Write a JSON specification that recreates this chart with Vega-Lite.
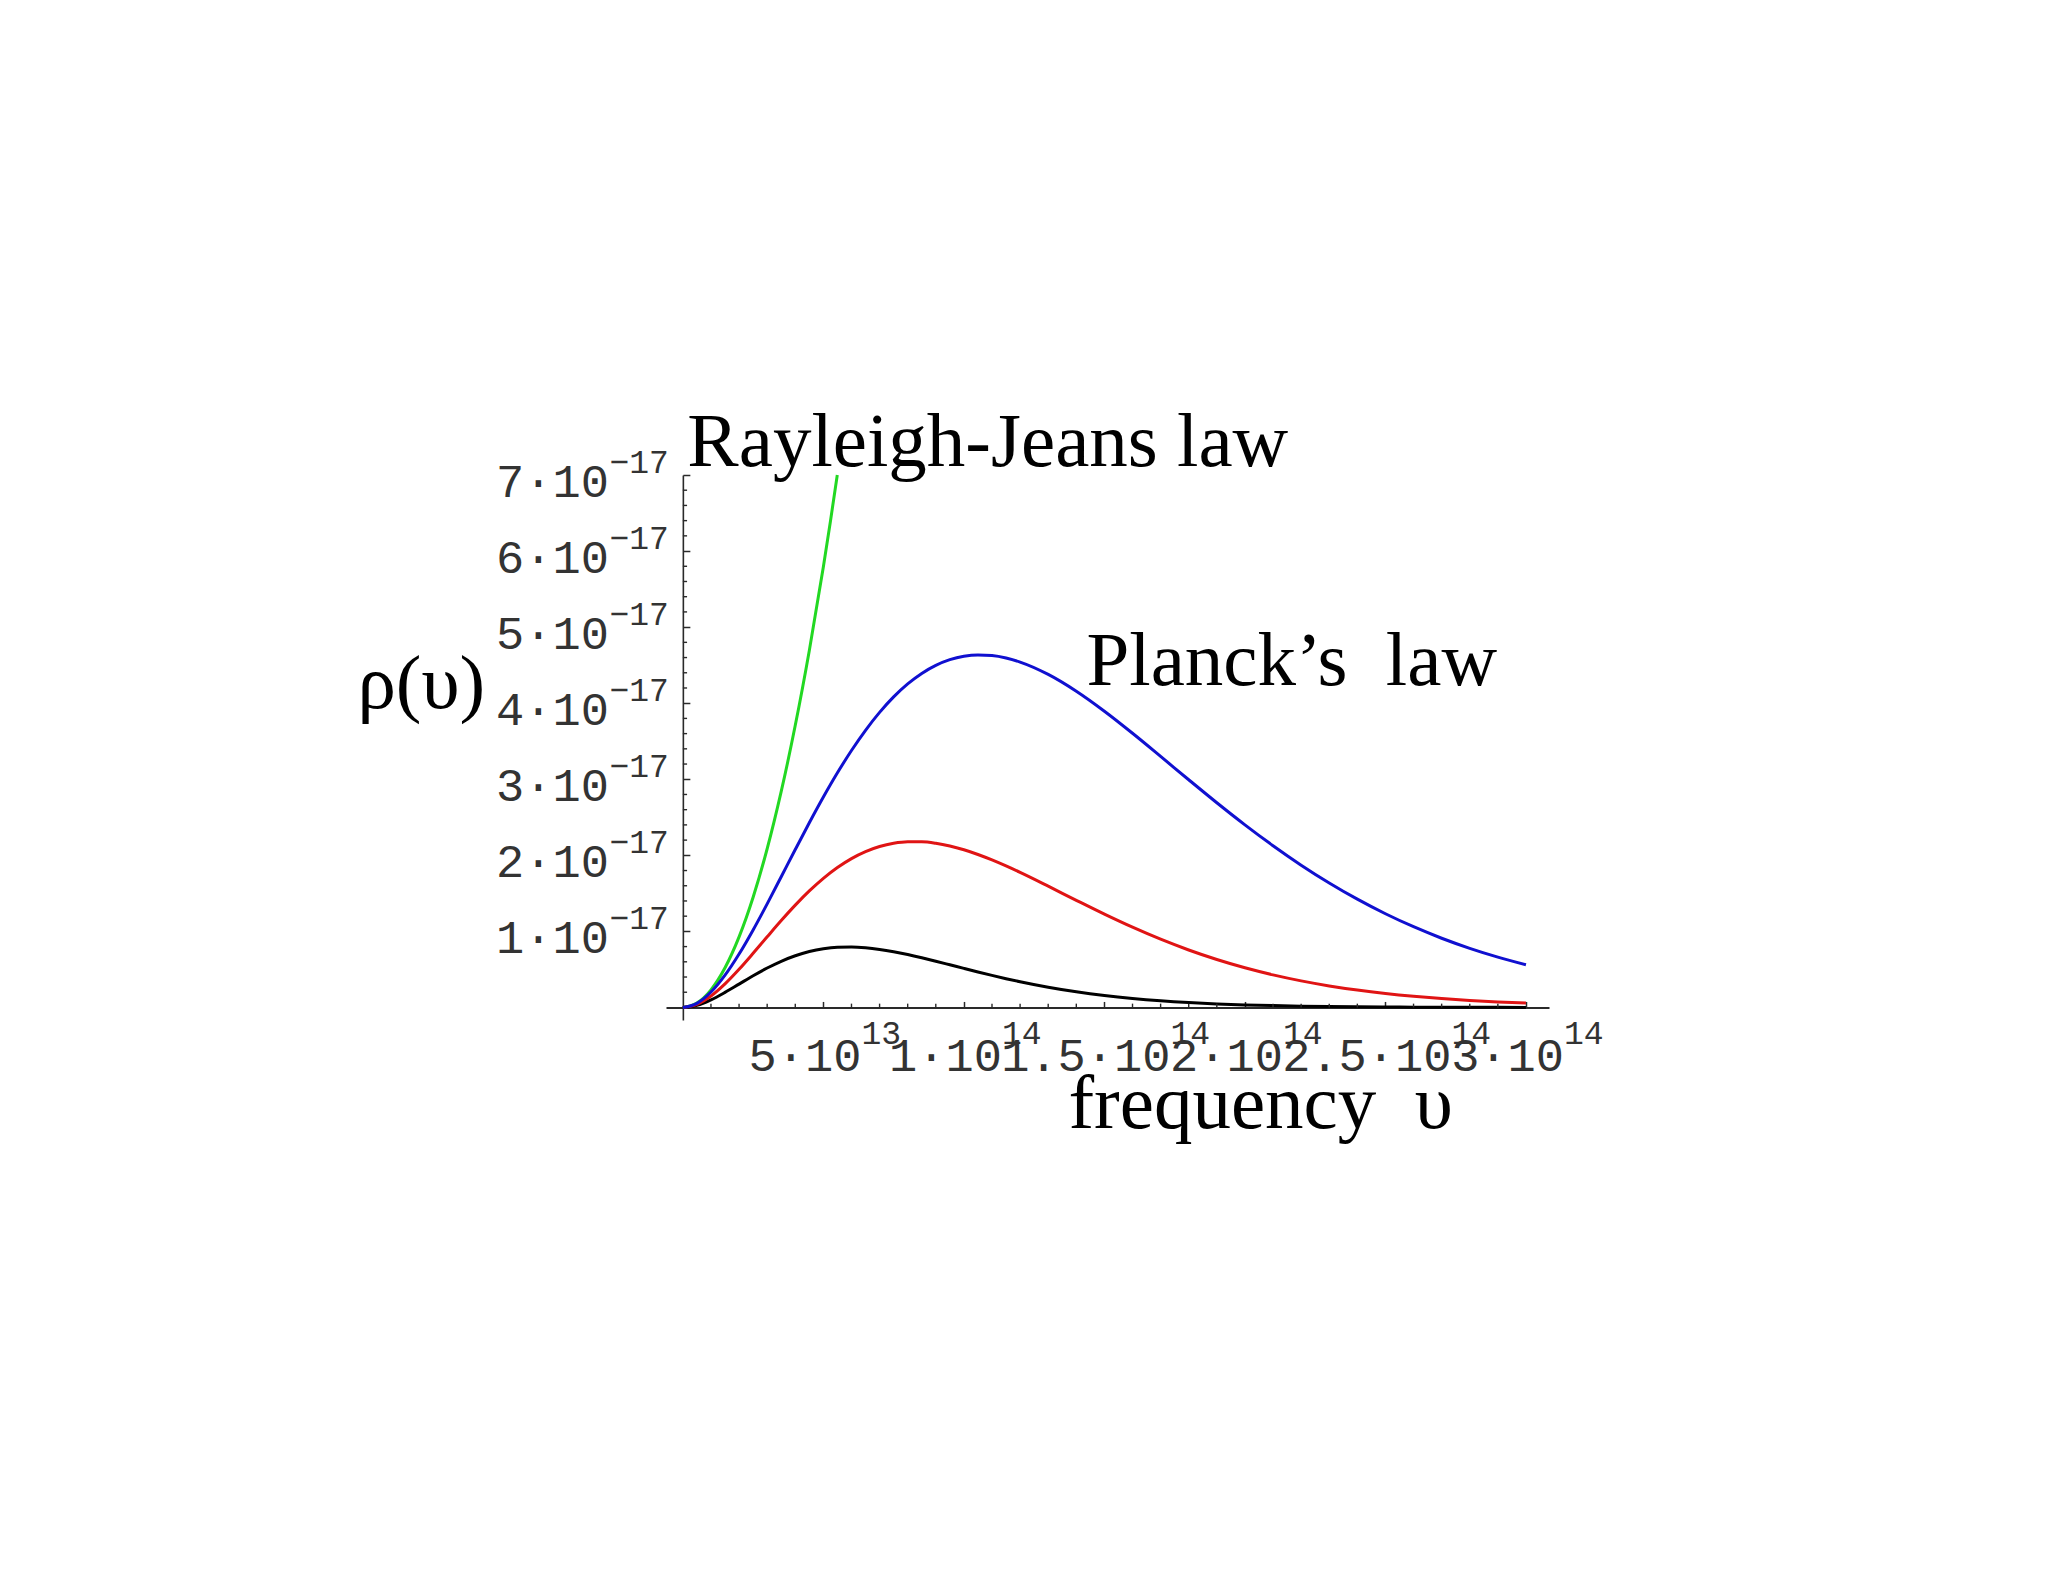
{
  "$schema": "https://vega.github.io/schema/vega-lite/v6.json",
  "width": 883,
  "height": 545,
  "autosize": {"type": "none"},
  "padding": {"left": 666, "top": 475, "right": 499, "bottom": 562},
  "background": "white",
  "config": {"view": {"stroke": null}},
  "datasets": {
    "curves": [
      {"s":"g","v":0,"r":0},{"s":"g","v":0.5,"r":0.058},{"s":"g","v":1,"r":0.2318},{"s":"g","v":1.5,"r":0.5216},{"s":"g","v":2,"r":0.9272},{"s":"g","v":2.5,"r":1.4488},{"s":"g","v":3,"r":2.0863},{"s":"g","v":3.5,"r":2.8397},{"s":"g","v":4,"r":3.709},{"s":"g","v":4.5,"r":4.6942},{"s":"g","v":5,"r":5.7953},{"s":"g","v":5.25,"r":6.3893},{"s":"g","v":5.495,"r":7.0},
      {"s":"b","v":0,"r":0},{"s":"b","v":0.5,"r":0.0542},{"s":"b","v":1,"r":0.2023},{"s":"b","v":1.5,"r":0.4243},{"s":"b","v":2,"r":0.7019},{"s":"b","v":2.5,"r":1.0192},{"s":"b","v":3,"r":1.362},{"s":"b","v":3.5,"r":1.7179},{"s":"b","v":4,"r":2.0762},{"s":"b","v":4.5,"r":2.4282},{"s":"b","v":5,"r":2.7662},{"s":"b","v":5.5,"r":3.0845},{"s":"b","v":6,"r":3.3783},{"s":"b","v":6.5,"r":3.644},{"s":"b","v":7,"r":3.8793},{"s":"b","v":7.5,"r":4.0826},{"s":"b","v":8,"r":4.2533},{"s":"b","v":8.5,"r":4.3913},{"s":"b","v":9,"r":4.4971},{"s":"b","v":9.5,"r":4.572},{"s":"b","v":10,"r":4.6173},{"s":"b","v":10.5,"r":4.6348},{"s":"b","v":11,"r":4.6264},{"s":"b","v":11.5,"r":4.5944},{"s":"b","v":12,"r":4.5409},{"s":"b","v":13,"r":4.3785},{"s":"b","v":14,"r":4.1574},{"s":"b","v":15,"r":3.8944},{"s":"b","v":16,"r":3.6044},{"s":"b","v":17,"r":3.3006},{"s":"b","v":18,"r":2.9934},{"s":"b","v":19,"r":2.6913},{"s":"b","v":20,"r":2.4008},{"s":"b","v":21,"r":2.1264},{"s":"b","v":22,"r":1.871},{"s":"b","v":23,"r":1.6365},{"s":"b","v":24,"r":1.4235},{"s":"b","v":25,"r":1.2319},{"s":"b","v":26,"r":1.0611},{"s":"b","v":27,"r":0.91},{"s":"b","v":28,"r":0.7772},{"s":"b","v":29,"r":0.6613},{"s":"b","v":30,"r":0.5607},
      {"s":"r","v":0,"r":0},{"s":"r","v":0.5,"r":0.0413},{"s":"r","v":1,"r":0.1512},{"s":"r","v":1.5,"r":0.3103},{"s":"r","v":2,"r":0.502},{"s":"r","v":2.5,"r":0.7121},{"s":"r","v":3,"r":0.9288},{"s":"r","v":3.5,"r":1.1425},{"s":"r","v":4,"r":1.3454},{"s":"r","v":4.5,"r":1.5318},{"s":"r","v":5,"r":1.6975},{"s":"r","v":5.5,"r":1.8398},{"s":"r","v":6,"r":1.9572},{"s":"r","v":6.5,"r":2.0491},{"s":"r","v":7,"r":2.1159},{"s":"r","v":7.5,"r":2.1586},{"s":"r","v":8,"r":2.1787},{"s":"r","v":8.5,"r":2.178},{"s":"r","v":9,"r":2.1587},{"s":"r","v":9.5,"r":2.1229},{"s":"r","v":10,"r":2.0729},{"s":"r","v":10.5,"r":2.011},{"s":"r","v":11,"r":1.9394},{"s":"r","v":11.5,"r":1.8601},{"s":"r","v":12,"r":1.775},{"s":"r","v":13,"r":1.5941},{"s":"r","v":14,"r":1.4084},{"s":"r","v":15,"r":1.2265},{"s":"r","v":16,"r":1.0548},{"s":"r","v":17,"r":0.8969},{"s":"r","v":18,"r":0.755},{"s":"r","v":19,"r":0.6299},{"s":"r","v":20,"r":0.5212},{"s":"r","v":21,"r":0.4281},{"s":"r","v":22,"r":0.3493},{"s":"r","v":23,"r":0.2833},{"s":"r","v":24,"r":0.2284},{"s":"r","v":25,"r":0.1832},{"s":"r","v":26,"r":0.1463},{"s":"r","v":27,"r":0.1163},{"s":"r","v":28,"r":0.092},{"s":"r","v":29,"r":0.0726},{"s":"r","v":30,"r":0.057},
      {"s":"k","v":0,"r":0},{"s":"k","v":0.5,"r":0.0285},{"s":"k","v":1,"r":0.1003},{"s":"k","v":1.5,"r":0.1979},{"s":"k","v":2,"r":0.3069},{"s":"k","v":2.5,"r":0.4164},{"s":"k","v":3,"r":0.5183},{"s":"k","v":3.5,"r":0.6072},{"s":"k","v":4,"r":0.6798},{"s":"k","v":4.5,"r":0.7345},{"s":"k","v":5,"r":0.7711},{"s":"k","v":5.5,"r":0.7905},{"s":"k","v":6,"r":0.7944},{"s":"k","v":6.5,"r":0.7845},{"s":"k","v":7,"r":0.7633},{"s":"k","v":7.5,"r":0.7329},{"s":"k","v":8,"r":0.6955},{"s":"k","v":8.5,"r":0.6532},{"s":"k","v":9,"r":0.6078},{"s":"k","v":9.5,"r":0.5607},{"s":"k","v":10,"r":0.5133},{"s":"k","v":10.5,"r":0.4666},{"s":"k","v":11,"r":0.4214},{"s":"k","v":11.5,"r":0.3784},{"s":"k","v":12,"r":0.3379},{"s":"k","v":13,"r":0.2656},{"s":"k","v":14,"r":0.2051},{"s":"k","v":15,"r":0.156},{"s":"k","v":16,"r":0.1172},{"s":"k","v":17,"r":0.0869},{"s":"k","v":18,"r":0.0639},{"s":"k","v":19,"r":0.0465},{"s":"k","v":20,"r":0.0335},{"s":"k","v":21,"r":0.024},{"s":"k","v":22,"r":0.0171},{"s":"k","v":23,"r":0.0121},{"s":"k","v":24,"r":0.0085},{"s":"k","v":25,"r":0.0059},{"s":"k","v":26,"r":0.0041},{"s":"k","v":27,"r":0.0029},{"s":"k","v":28,"r":0.002},{"s":"k","v":29,"r":0.0014},{"s":"k","v":30,"r":0.0009}
    ],
    "xminor": [
      {"v":1},{"v":2},{"v":3},{"v":4},{"v":6},{"v":7},{"v":8},{"v":9},{"v":11},{"v":12},{"v":13},{"v":14},{"v":16},{"v":17},{"v":18},{"v":19},{"v":21},{"v":22},{"v":23},{"v":24},{"v":26},{"v":27},{"v":28},{"v":29}
    ],
    "yminor": [
      {"r":0.2},{"r":0.4},{"r":0.6},{"r":0.8},{"r":1.2},{"r":1.4},{"r":1.6},{"r":1.8},{"r":2.2},{"r":2.4},{"r":2.6},{"r":2.8},{"r":3.2},{"r":3.4},{"r":3.6},{"r":3.8},{"r":4.2},{"r":4.4},{"r":4.6},{"r":4.8},{"r":5.2},{"r":5.4},{"r":5.6},{"r":5.8},{"r":6.2},{"r":6.4},{"r":6.6},{"r":6.8}
    ],
    "xlabels": [
      {"v":5,"base":"5·10","exp":"13"},{"v":10,"base":"1·10","exp":"14"},{"v":15,"base":"1.5·10","exp":"14"},{"v":20,"base":"2·10","exp":"14"},{"v":25,"base":"2.5·10","exp":"14"},{"v":30,"base":"3·10","exp":"14"}
    ],
    "ylabels": [
      {"r":1,"base":"1·10","exp":"−17"},{"r":2,"base":"2·10","exp":"−17"},{"r":3,"base":"3·10","exp":"−17"},{"r":4,"base":"4·10","exp":"−17"},{"r":5,"base":"5·10","exp":"−17"},{"r":6,"base":"6·10","exp":"−17"},{"r":7,"base":"7·10","exp":"−17"}
    ],
    "notes": [
      {"v":0.16,"r":7.12,"label":"Rayleigh-Jeans law"},
      {"v":14.36,"r":4.24,"label":"Planck’s\u00a0\u00a0law"},
      {"v":13.72,"r":-1.584,"label":"frequency\u00a0\u00a0υ"},
      {"v":-11.58,"r":3.94,"label":"ρ(υ)"}
    ]
  },
  "layer": [
    {
      "data": {"name": "curves"},
      "transform": [{"filter": "datum.s === 'g'"}],
      "mark": {"type": "line", "color": "#22d822", "strokeWidth": 3, "interpolate": "monotone"},
      "encoding": {
        "x": {"field": "v", "type": "quantitative", "scale": {"domain": [-0.6, 30.82], "nice": false, "zero": false},
          "axis": {"orient": "bottom", "offset": -12.55, "values": [5,10,15,20,25,30], "labels": false, "title": null, "grid": false,
            "domainColor": "#2a2a2a", "domainWidth": 2, "tickColor": "#2a2a2a", "tickWidth": 1.5, "tickSize": -6}},
        "y": {"field": "r", "type": "quantitative", "scale": {"domain": [-0.165, 7], "nice": false, "zero": false},
          "axis": {"orient": "left", "offset": -16.86, "values": [1,2,3,4,5,6,7], "labels": false, "title": null, "grid": false,
            "domainColor": "#2a2a2a", "domainWidth": 1.6, "tickColor": "#2a2a2a", "tickWidth": 1.5, "tickSize": -7}}
      }
    },
    {
      "data": {"name": "curves"},
      "transform": [{"filter": "datum.s === 'k'"}],
      "mark": {"type": "line", "color": "#000000", "strokeWidth": 3, "interpolate": "monotone"},
      "encoding": {
        "x": {"field": "v", "type": "quantitative", "title": null},
        "y": {"field": "r", "type": "quantitative", "title": null}
      }
    },
    {
      "data": {"name": "curves"},
      "transform": [{"filter": "datum.s === 'r'"}],
      "mark": {"type": "line", "color": "#e01414", "strokeWidth": 3, "interpolate": "monotone"},
      "encoding": {
        "x": {"field": "v", "type": "quantitative", "title": null},
        "y": {"field": "r", "type": "quantitative", "title": null}
      }
    },
    {
      "data": {"name": "curves"},
      "transform": [{"filter": "datum.s === 'b'"}],
      "mark": {"type": "line", "color": "#1010d0", "strokeWidth": 3, "interpolate": "monotone"},
      "encoding": {
        "x": {"field": "v", "type": "quantitative", "title": null},
        "y": {"field": "r", "type": "quantitative", "title": null}
      }
    },
    {
      "data": {"name": "xminor"},
      "mark": {"type": "rule", "color": "#2a2a2a", "strokeWidth": 1.4},
      "encoding": {
        "x": {"field": "v", "type": "quantitative", "title": null},
        "y": {"datum": 0},
        "y2": {"datum": 0.05}
      }
    },
    {
      "data": {"name": "yminor"},
      "mark": {"type": "rule", "color": "#2a2a2a", "strokeWidth": 1.4},
      "encoding": {
        "y": {"field": "r", "type": "quantitative", "title": null},
        "x": {"datum": 0},
        "x2": {"datum": 0.15}
      }
    },
    {
      "data": {"name": "xlabels"},
      "transform": [{"filter": "length(datum.base) === 4"}],
      "mark": {"type": "text", "font": "Liberation Mono", "fontSize": 47, "align": "right", "baseline": "alphabetic", "dx": 38, "dy": 63.5, "color": "#333333"},
      "encoding": {
        "x": {"field": "v", "type": "quantitative", "title": null},
        "y": {"datum": 0},
        "text": {"field": "base"}
      }
    },
    {
      "data": {"name": "xlabels"},
      "transform": [{"filter": "length(datum.base) === 6"}],
      "mark": {"type": "text", "font": "Liberation Mono", "fontSize": 47, "align": "right", "baseline": "alphabetic", "dx": 66, "dy": 63.5, "color": "#333333"},
      "encoding": {
        "x": {"field": "v", "type": "quantitative", "title": null},
        "y": {"datum": 0},
        "text": {"field": "base"}
      }
    },
    {
      "data": {"name": "xlabels"},
      "transform": [{"filter": "length(datum.base) === 4"}],
      "mark": {"type": "text", "font": "Liberation Mono", "fontSize": 33, "align": "left", "baseline": "alphabetic", "dx": 38, "dy": 36.5, "color": "#333333"},
      "encoding": {
        "x": {"field": "v", "type": "quantitative", "title": null},
        "y": {"datum": 0},
        "text": {"field": "exp"}
      }
    },
    {
      "data": {"name": "xlabels"},
      "transform": [{"filter": "length(datum.base) === 6"}],
      "mark": {"type": "text", "font": "Liberation Mono", "fontSize": 33, "align": "left", "baseline": "alphabetic", "dx": 66, "dy": 36.5, "color": "#333333"},
      "encoding": {
        "x": {"field": "v", "type": "quantitative", "title": null},
        "y": {"datum": 0},
        "text": {"field": "exp"}
      }
    },
    {
      "data": {"name": "ylabels"},
      "mark": {"type": "text", "font": "Liberation Mono", "fontSize": 47, "align": "right", "baseline": "alphabetic", "dx": -74, "dy": 22, "color": "#333333"},
      "encoding": {
        "y": {"field": "r", "type": "quantitative", "title": null},
        "x": {"datum": 0},
        "text": {"field": "base"}
      }
    },
    {
      "data": {"name": "ylabels"},
      "mark": {"type": "text", "font": "Liberation Mono", "fontSize": 33, "align": "right", "baseline": "alphabetic", "dx": -14, "dy": -2, "color": "#333333"},
      "encoding": {
        "y": {"field": "r", "type": "quantitative", "title": null},
        "x": {"datum": 0},
        "text": {"field": "exp"}
      }
    },
    {
      "data": {"name": "notes"},
      "mark": {"type": "text", "font": "Liberation Serif", "fontSize": 77, "align": "left", "baseline": "alphabetic", "color": "#000000"},
      "encoding": {
        "x": {"field": "v", "type": "quantitative", "title": null},
        "y": {"field": "r", "type": "quantitative", "title": null},
        "text": {"field": "label"}
      }
    }
  ]
}
